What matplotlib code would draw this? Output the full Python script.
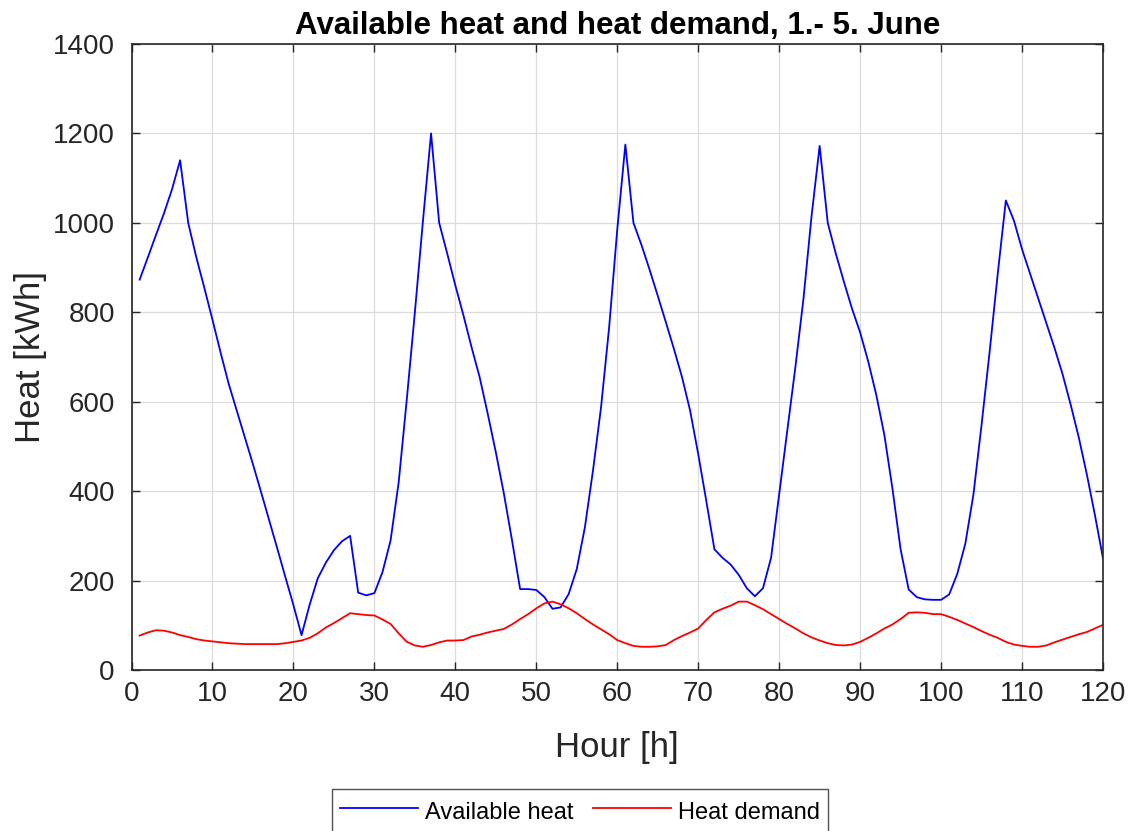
import numpy as np
import matplotlib
matplotlib.use("Agg")
import matplotlib.pyplot as plt

plt.rcParams['font.family'] = ['Liberation Sans', 'DejaVu Sans']

hours = np.arange(1, 121)

available_heat = [
    873, 922, 972, 1021, 1075, 1140, 1000, 923, 854, 783,
    710, 640, 580, 520, 460, 398, 335, 272, 208, 145,
    78, 146, 205, 240, 268, 288, 300, 173, 167, 172,
    219, 290, 420, 605, 800, 1005, 1200, 1000, 931, 860,
    793, 722, 655, 573, 487, 394, 290, 181, 181, 179,
    163, 137, 140, 170, 226, 319, 446, 588, 767, 985,
    1175, 1000, 950, 895, 837, 778, 718, 655, 580, 483,
    378, 270, 251, 236, 213, 183, 165, 183, 251, 393,
    535, 677, 830, 1015, 1172, 1000, 931, 868, 808, 755,
    690, 615, 525, 405, 270, 180, 163, 158, 157, 157,
    169, 215, 283, 393, 548, 712, 886, 1050, 1005, 941,
    886, 831, 776, 721, 662, 594, 521, 438, 347, 250,
]

heat_demand = [
    77, 84, 89, 88, 84, 78, 74, 69, 66, 64,
    62, 60, 59, 58, 58, 58, 58, 58, 60, 63,
    66, 72, 82, 95, 105, 116, 127, 125, 123, 122,
    113, 103, 82, 63, 55, 52, 56, 62, 66, 66,
    67, 75, 79, 84, 88, 92, 102, 114, 125, 138,
    149, 153, 147, 138, 127, 114, 102, 91, 80, 67,
    60, 54, 52, 52, 53, 56, 67, 76, 84, 93,
    112, 129, 137, 144, 153, 153, 145, 136, 125, 114,
    103, 93, 82, 73, 66, 60, 56, 55, 57, 63,
    72, 82, 93, 102, 114, 128, 129, 128, 125, 125,
    119, 112, 104, 96, 87, 79, 72, 63, 57, 54,
    52, 52, 55, 62, 68, 74, 80, 85, 93, 101,
]

x_ticks = np.arange(0, 121, 10)
y_ticks = np.arange(0, 1401, 200)

dark = '#262626'

fig = plt.figure(figsize=(11.33, 8.31), dpi=100)
ax = fig.add_axes([0.1161, 0.1937, 0.8574, 0.7534])

ax.plot(hours, available_heat, color='#0000ff', linewidth=1.3, label='Available heat')
ax.plot(hours, heat_demand, color='#ff0000', linewidth=1.3, label='Heat demand')

ax.set_xlim(0, 120)
ax.set_ylim(0, 1400)
ax.set_xticks(x_ticks)
ax.set_yticks(y_ticks)
ax.grid(True, color='#dcdcdc', linewidth=0.9)
ax.set_axisbelow(True)

ax.tick_params(direction='in', top=True, right=True, length=6, width=1,
               colors=dark, labelsize=20)
ax.tick_params(axis='x', pad=8)
ax.tick_params(axis='y', pad=12)
for spine in ax.spines.values():
    spine.set_color(dark)
    spine.set_linewidth(1.2)

ax.set_title('Available heat and heat demand, 1.- 5. June',
             fontsize=22.5, fontweight='bold', color='black', pad=7)
ax.set_xlabel('Hour [h]', fontsize=25, color=dark, labelpad=17)
ax.set_ylabel('Heat [kWh]', fontsize=25, color=dark, labelpad=4)

# legend sits in its own box under the plot, cut by the figure edge
fig.legend(loc='upper center', bbox_to_anchor=(0.512, 0.051), ncol=2,
           fontsize=17, frameon=True, fancybox=False, edgecolor=dark,
           handlelength=3.3, handleheight=1.45, handletextpad=0.3,
           columnspacing=0.8, borderpad=0.35, borderaxespad=0)

fig.savefig('out.png', dpi=100)
